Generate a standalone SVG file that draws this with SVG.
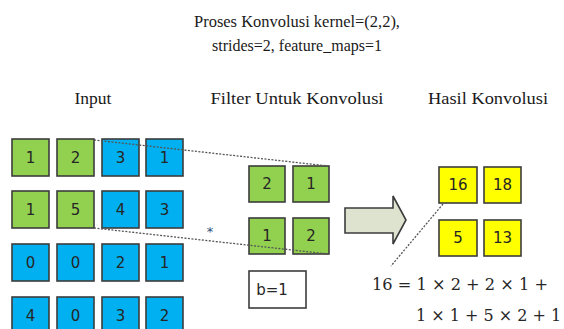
<svg xmlns="http://www.w3.org/2000/svg" width="564" height="329" viewBox="0 0 564 329">
<style>
.t{font-family:"Liberation Serif","Times New Roman",serif;fill:#1a1a1a;font-size:16.5px;text-anchor:middle}
.h{font-size:17.5px}
.c{stroke:#3c3c3c;stroke-width:1.6}
.g{fill:#92D050}
.b{fill:#00B0F0}
.y{fill:#FFFF00}
.w{fill:#ffffff}
.n{font-family:"DejaVu Sans",Verdana,sans-serif;font-size:15px;fill:#262626;text-anchor:middle;dominant-baseline:central}
.eq{font-family:"DejaVu Serif","Liberation Serif",serif;font-size:17px;fill:#262626}
.eq2{font-size:16px}
.dot{stroke:#555;stroke-width:1.3;stroke-dasharray:2 1.5;fill:none}
</style>
<rect width="564" height="329" fill="#ffffff"/>
<g id="title">
<text class="t" x="297" y="27" textLength="206" lengthAdjust="spacingAndGlyphs">Proses Konvolusi kernel=(2,2),</text>
<text class="t" x="297" y="51" textLength="170" lengthAdjust="spacingAndGlyphs">strides=2, feature_maps=1</text>
</g>
<g id="headings">
<text class="t h" x="93" y="104">Input</text>
<text class="t h" x="297" y="104" textLength="173" lengthAdjust="spacingAndGlyphs">Filter Untuk Konvolusi</text>
<text class="t h" x="488" y="104" textLength="120" lengthAdjust="spacingAndGlyphs">Hasil Konvolusi</text>
</g>
<g id="input">
<g id="in-1-1"><rect class="c g" x="12" y="139" width="37" height="37"/><text class="n" x="30.5" y="157.5">1</text></g>
<g id="in-1-2"><rect class="c g" x="57" y="139" width="37" height="37"/><text class="n" x="75.5" y="157.5">2</text></g>
<g id="in-1-3"><rect class="c b" x="102" y="139" width="37" height="37"/><text class="n" x="120.5" y="157.5">3</text></g>
<g id="in-1-4"><rect class="c b" x="146" y="139" width="37" height="37"/><text class="n" x="164.5" y="157.5">1</text></g>
<g id="in-2-1"><rect class="c g" x="12" y="191" width="37" height="37"/><text class="n" x="30.5" y="209.5">1</text></g>
<g id="in-2-2"><rect class="c g" x="57" y="191" width="37" height="37"/><text class="n" x="75.5" y="209.5">5</text></g>
<g id="in-2-3"><rect class="c b" x="102" y="191" width="37" height="37"/><text class="n" x="120.5" y="209.5">4</text></g>
<g id="in-2-4"><rect class="c b" x="146" y="191" width="37" height="37"/><text class="n" x="164.5" y="209.5">3</text></g>
<g id="in-3-1"><rect class="c b" x="12" y="244" width="37" height="37"/><text class="n" x="30.5" y="262.5">0</text></g>
<g id="in-3-2"><rect class="c b" x="57" y="244" width="37" height="37"/><text class="n" x="75.5" y="262.5">0</text></g>
<g id="in-3-3"><rect class="c b" x="102" y="244" width="37" height="37"/><text class="n" x="120.5" y="262.5">2</text></g>
<g id="in-3-4"><rect class="c b" x="146" y="244" width="37" height="37"/><text class="n" x="164.5" y="262.5">1</text></g>
<g id="in-4-1"><rect class="c b" x="12" y="297" width="37" height="37"/><text class="n" x="30.5" y="315.5">4</text></g>
<g id="in-4-2"><rect class="c b" x="57" y="297" width="37" height="37"/><text class="n" x="75.5" y="315.5">0</text></g>
<g id="in-4-3"><rect class="c b" x="102" y="297" width="37" height="37"/><text class="n" x="120.5" y="315.5">3</text></g>
<g id="in-4-4"><rect class="c b" x="146" y="297" width="37" height="37"/><text class="n" x="164.5" y="315.5">2</text></g>
</g>
<g id="filter">
<g id="f-1-1"><rect class="c g" x="249" y="166" width="36" height="36"/><text class="n" x="267" y="184">2</text></g>
<g id="f-1-2"><rect class="c g" x="293" y="166" width="36" height="36"/><text class="n" x="311" y="184">1</text></g>
<g id="f-2-1"><rect class="c g" x="249" y="218" width="36" height="36"/><text class="n" x="267" y="236">1</text></g>
<g id="f-2-2"><rect class="c g" x="293" y="218" width="36" height="36"/><text class="n" x="311" y="236">2</text></g>
</g>
<g id="bias"><rect class="c w" x="249" y="271" width="57" height="37"/><text class="n" x="272" y="289.5">b=1</text></g>
<g id="result">
<g id="r-1-1"><rect class="c y" x="439" y="167" width="38" height="36"/><text class="n" x="458" y="185">16</text></g>
<g id="r-1-2"><rect class="c y" x="484" y="167" width="37" height="36"/><text class="n" x="502.5" y="185">18</text></g>
<g id="r-2-1"><rect class="c y" x="439" y="220" width="38" height="36"/><text class="n" x="458" y="238">5</text></g>
<g id="r-2-2"><rect class="c y" x="484" y="220" width="37" height="36"/><text class="n" x="502.5" y="238">13</text></g>
</g>
<g id="connectors">
<line class="dot" x1="94" y1="140" x2="328" y2="166"/>
<line class="dot" x1="94" y1="228" x2="328" y2="254"/>
<line class="dot" x1="443" y1="204" x2="391" y2="266"/>
<path d="M345,208 H393 V196 L406,220 L393,244 V233 H345 Z" fill="#DDE3CE" stroke="#3c3c3c" stroke-width="1.6"/>
<text x="210" y="236" font-family="DejaVu Sans,sans-serif" font-size="13" fill="#2f4f80" text-anchor="middle">*</text>
</g>
<g id="equation">
<text class="eq" x="372" y="290" textLength="176" lengthAdjust="spacingAndGlyphs">16 = 1 × 2 + 2 × 1 +</text>
<text class="eq eq2" x="416" y="321">1 × 1 + 5 × 2 + 1</text>
</g>
</svg>
